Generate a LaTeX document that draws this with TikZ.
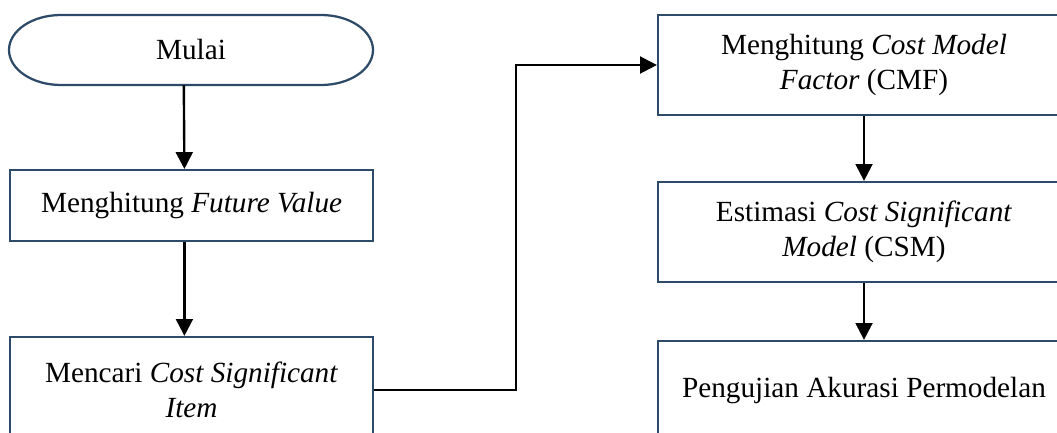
\documentclass[tikz,border=0pt]{standalone}
\usepackage{fontspec}
\setmainfont{Liberation Serif}
\usetikzlibrary{arrows.meta}
\definecolor{boxline}{HTML}{2E4A69}
\tikzset{
  procbox/.style={draw=boxline, line width=1.6pt, align=center, inner sep=2pt,
    font=\fontsize{20.8}{25}\selectfont},
  flowline/.style={line width=1.7pt, -{Triangle[width=12pt,length=12pt]}},
}
\newcommand{\terminal}[2]{
  \draw[boxline, line width=1.6pt, line join=round] ([xshift=#2]#1.north west) -- ([xshift=-#2]#1.north east)
    arc[start angle=90, end angle=-90, x radius=#2, y radius=0.875cm]
    -- ([xshift=#2]#1.south west)
    arc[start angle=270, end angle=90, x radius=#2, y radius=0.875cm] -- cycle;
}

\begin{document}
\begin{tikzpicture}
  \clip (0,0) rectangle (26.425,-10.8);
  \node[procbox, draw=none, outer sep=0pt, minimum width=9.1cm, minimum height=1.75cm] (mulai) at (4.775,-1.25) {Mulai};
  \terminal{mulai}{1.3cm}
  \node[procbox, minimum width=9.075cm, minimum height=1.775cm] (future) at (4.79,-5.14) {Menghitung \textit{Future Value}};
  \node[procbox, minimum width=9.075cm, minimum height=2.65cm] (csi) at (4.79,-9.75) {Mencari \textit{Cost Significant}\\\textit{Item}};
  \node[procbox, minimum width=10.3cm, minimum height=2.5cm] (cmf) at (21.6,-1.625) {Menghitung \textit{Cost Model}\\\textit{Factor} (CMF)};
  \node[procbox, minimum width=10.3cm, minimum height=2.5cm] (csm) at (21.6,-5.8) {Estimasi \textit{Cost Significant}\\\textit{Model} (CSM)};
  \node[procbox, minimum width=10.3cm, minimum height=2.5cm] (uji) at (21.6,-9.775) {Pengujian Akurasi Permodelan};

  \draw[flowline] ([xshift=-0.18cm]mulai.south) -- ([xshift=-0.18cm]future.north);
  \draw[flowline] ([xshift=-0.18cm]future.south) -- ([xshift=-0.18cm]csi.north);
  \draw[flowline] (csi.east) -- ([xshift=3.55cm]csi.east) |- (cmf.west);
  \draw[flowline] (cmf) -- (csm);
  \draw[flowline] (csm) -- (uji);
\end{tikzpicture}
\end{document}
